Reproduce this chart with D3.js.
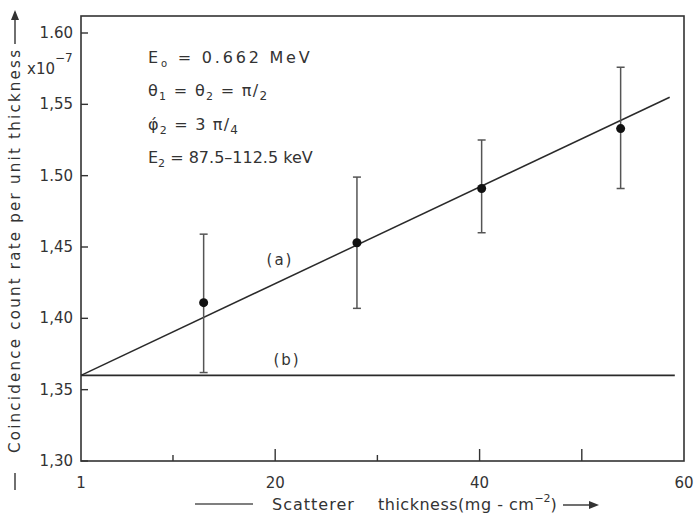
<!DOCTYPE html>
<html lang="en">
<head>
<meta charset="UTF-8">
<style>
    body {margin: 0; background: #fff;}
    svg {font-family: "DejaVu Sans", sans-serif; fill: #333;}
</style>
</head>
<body>
<div id="chart"></div>
<script src="https://d3js.org/d3.v7.min.js"></script>
<script>
// data
var thickness = [13, 28, 40.2, 53.8];
var rate      = [1.411, 1.453, 1.491, 1.533];
var errLow    = [1.362, 1.407, 1.460, 1.491];
var errHigh   = [1.459, 1.499, 1.525, 1.576];
var lineA = [[1, 1.36], [58.6, 1.555]];
var lineB = [[1, 1.36], [59.1, 1.36]];
var yTicks = [1.30, 1.35, 1.40, 1.45, 1.50, 1.55, 1.60];
var yTickLabels = ["1,30", "1,35", "1,40", "1,45", "1.50", "1,55", "1.60"];
var xMajor = [20, 40, 50];
var xMinor = [10, 30];
var xTickLabels = [[1, "1"], [20, "20"], [40, "40"], [60, "60"]];

var width = 696, height = 519;
var mLeft = 81, mRight = 684, mTop = 16, mBottom = 461;

var svg = d3.select("#chart").append("svg")
    .attr("width", width)
    .attr("height", height);

var x = d3.scaleLinear().domain([1, 60]).range([mLeft, mRight]);
var y = d3.scaleLinear().domain([1.30, 1.60]).range([mBottom, 33]);

// frame
svg.append("rect")
    .attr("x", mLeft).attr("y", mTop)
    .attr("width", mRight - mLeft).attr("height", mBottom - mTop)
    .attr("fill", "none").attr("stroke", "#333").attr("stroke-width", 1.6);

// y ticks (inside)
svg.selectAll(".ytick").data(yTicks).enter().append("line")
    .attr("x1", mLeft).attr("x2", mLeft + 7)
    .attr("y1", function(d) { return y(d); })
    .attr("y2", function(d) { return y(d); })
    .attr("stroke", "#333").attr("stroke-width", 1.4);

svg.selectAll(".ylab").data(yTicks).enter().append("text")
    .attr("x", mLeft - 8)
    .attr("y", function(d) { return y(d) + 5; })
    .attr("text-anchor", "end")
    .attr("font-size", 15)
    .text(function(d, i) { return yTickLabels[i]; });

// x ticks (inside)
svg.selectAll(".xmaj").data(xMajor).enter().append("line")
    .attr("x1", function(d) { return x(d); })
    .attr("x2", function(d) { return x(d); })
    .attr("y1", mBottom).attr("y2", mBottom - 12)
    .attr("stroke", "#333").attr("stroke-width", 1.4);
svg.selectAll(".xmin").data(xMinor).enter().append("line")
    .attr("x1", function(d) { return x(d); })
    .attr("x2", function(d) { return x(d); })
    .attr("y1", mBottom).attr("y2", mBottom - 6)
    .attr("stroke", "#333").attr("stroke-width", 1.4);

svg.selectAll(".xlab").data(xTickLabels).enter().append("text")
    .attr("x", function(d) { return x(d[0]); })
    .attr("y", mBottom + 27)
    .attr("text-anchor", "middle")
    .attr("font-size", 15)
    .text(function(d) { return d[1]; });

// fitted lines
var line = d3.line()
    .x(function(d) { return x(d[0]); })
    .y(function(d) { return y(d[1]); });

svg.append("path").datum(lineA)
    .attr("d", line).attr("fill", "none")
    .attr("stroke", "#2a2a2a").attr("stroke-width", 1.5);
svg.append("path").datum(lineB)
    .attr("d", line).attr("fill", "none")
    .attr("stroke", "#2a2a2a").attr("stroke-width", 1.6);

// error bars
var pts = thickness.map(function(t, i) {
    return {x: t, y: rate[i], lo: errLow[i], hi: errHigh[i]};
});
var eb = svg.selectAll(".err").data(pts).enter().append("g");
eb.append("line")
    .attr("x1", function(d) { return x(d.x); })
    .attr("x2", function(d) { return x(d.x); })
    .attr("y1", function(d) { return y(d.lo); })
    .attr("y2", function(d) { return y(d.hi); })
    .attr("stroke", "#555").attr("stroke-width", 1.5);
eb.append("line")
    .attr("x1", function(d) { return x(d.x) - 4; })
    .attr("x2", function(d) { return x(d.x) + 4; })
    .attr("y1", function(d) { return y(d.hi); })
    .attr("y2", function(d) { return y(d.hi); })
    .attr("stroke", "#555").attr("stroke-width", 1.5);
eb.append("line")
    .attr("x1", function(d) { return x(d.x) - 4; })
    .attr("x2", function(d) { return x(d.x) + 4; })
    .attr("y1", function(d) { return y(d.lo); })
    .attr("y2", function(d) { return y(d.lo); })
    .attr("stroke", "#555").attr("stroke-width", 1.5);
eb.append("circle")
    .attr("cx", function(d) { return x(d.x); })
    .attr("cy", function(d) { return y(d.y); })
    .attr("r", 4.5)
    .attr("fill", "#111");

// curve labels
svg.append("text").attr("x", 280).attr("y", 265)
    .attr("text-anchor", "middle").attr("font-size", 15)
    .attr("letter-spacing", 2).text("(a)");
svg.append("text").attr("x", 287).attr("y", 365)
    .attr("text-anchor", "middle").attr("font-size", 15)
    .attr("letter-spacing", 2).text("(b)");

// annotation block
var ann = svg.append("g").attr("font-size", 16);
var t1 = ann.append("text").attr("x", 148).attr("y", 63).attr("letter-spacing", 2.8);
t1.append("tspan").text("E");
t1.append("tspan").attr("font-size", 10).attr("dy", 4).text("o");
t1.append("tspan").attr("dy", -4).text(" = 0.662  MeV");

var t2 = ann.append("text").attr("x", 148).attr("y", 96).attr("letter-spacing", 1.3);
t2.append("tspan").text("θ");
t2.append("tspan").attr("font-size", 11).attr("dy", 4).text("1");
t2.append("tspan").attr("dy", -4).text(" = θ");
t2.append("tspan").attr("font-size", 11).attr("dy", 4).text("2");
t2.append("tspan").attr("dy", -4).text(" = π/");
t2.append("tspan").attr("font-size", 12).attr("dy", 4).text("2");

var t3 = ann.append("text").attr("x", 148).attr("y", 130).attr("letter-spacing", 1.2);
t3.append("tspan").text("φ́");
t3.append("tspan").attr("font-size", 11).attr("dy", 4).text("2");
t3.append("tspan").attr("dy", -4).text(" = 3 π/");
t3.append("tspan").attr("font-size", 12).attr("dy", 4).text("4");

var t4 = ann.append("text").attr("x", 148).attr("y", 163);
t4.append("tspan").text("E");
t4.append("tspan").attr("font-size", 11).attr("dy", 4).text("2");
t4.append("tspan").attr("dy", -4).text(" = 87.5–112.5 keV");

// x10^-7 multiplier
var mult = svg.append("text").attr("x", 27).attr("y", 74).attr("font-size", 15);
mult.append("tspan").text("x10");
mult.append("tspan").attr("font-size", 12).attr("dy", -12).text("−7");

// y axis title (rotated)
svg.append("text")
    .attr("transform", "translate(20,453) rotate(-90)")
    .attr("font-size", 15)
    .attr("textLength", 403)
    .attr("lengthAdjust", "spacing")
    .text("Coincidence  count  rate  per  unit  thickness");
svg.append("line").attr("x1", 15).attr("x2", 15).attr("y1", 473).attr("y2", 490)
    .attr("stroke", "#333").attr("stroke-width", 1.4);
svg.append("line").attr("x1", 15).attr("x2", 15).attr("y1", 44).attr("y2", 12)
    .attr("stroke", "#333").attr("stroke-width", 1.4);
svg.append("path").attr("d", "M11,20 L15,10 L19,20 Z").attr("fill", "#333");

// x axis title
svg.append("line").attr("x1", 195).attr("x2", 253).attr("y1", 504).attr("y2", 504)
    .attr("stroke", "#555").attr("stroke-width", 1.4);
var xt = svg.append("text").attr("x", 272).attr("y", 510).attr("font-size", 16);
xt.append("tspan").attr("letter-spacing", 1).text("Scatterer");
xt.append("tspan").attr("x", 378).attr("letter-spacing", 0.5).text("thickness(mg - cm");
xt.append("tspan").attr("font-size", 11).attr("dy", -8).text("−2");
xt.append("tspan").attr("dy", 8).text(")");
svg.append("line").attr("x1", 563).attr("x2", 592).attr("y1", 505).attr("y2", 505)
    .attr("stroke", "#333").attr("stroke-width", 1.4);
svg.append("path").attr("d", "M589,501 L599,505 L589,509 Z").attr("fill", "#333");
</script>
</body>
</html>
